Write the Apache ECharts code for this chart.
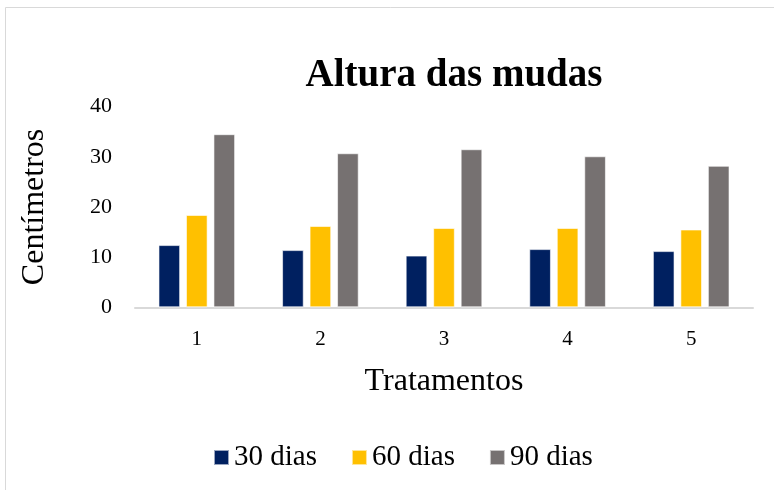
<!DOCTYPE html>
<html>
<head>
<meta charset="utf-8">
<script src="https://cdn.jsdelivr.net/npm/echarts@6/dist/echarts.min.js"></script>
<style>
  html, body { margin: 0; padding: 0; background: #fff; }
  #chart { width: 774px; height: 490px; }
</style>
</head>
<body>
<div id="chart"></div>
<script>
var categories = ['1', '2', '3', '4', '5'];
var dias30 = [12.4, 11.4, 10.3, 11.6, 11.2];
var dias60 = [18.4, 16.2, 15.8, 15.8, 15.5];
var dias90 = [34.5, 30.7, 31.5, 30.1, 28.2];
var yTicks = [0, 10, 20, 30, 40];

var font = '"Liberation Serif", "DejaVu Serif", serif';

var chart = echarts.init(document.getElementById('chart'));

function barSeries(name, data, color) {
  return {
    name: name,
    type: 'bar',
    data: data,
    barGap: '27%',
    barCategoryGap: '38%',
    itemStyle: { color: color, borderColor: 'rgba(255,255,255,0.6)', borderWidth: 1 },
  };
}

chart.setOption({
  animation: false,
  textStyle: { fontFamily: font, color: '#000' },
  title: {
    text: 'Altura das mudas',
    left: 449,
    top: 51,
    textAlign: 'center',
    textStyle: { fontFamily: font, fontSize: 39, fontWeight: 'bold', color: '#000' },
  },
  graphic: [{
    type: 'rect',
    shape: { x: 5.5, y: 7.5, width: 800, height: 500 },
    style: { fill: 'none', stroke: '#d9d9d9', lineWidth: 1 },
    silent: true,
  }],
  grid: { left: 135, right: 21, top: 106.6, bottom: 182.7, containLabel: false },
  legend: {
    left: 208,
    top: 438,
    itemWidth: 15,
    itemHeight: 15,
    itemGap: 34,
    icon: 'rect',
    textStyle: { fontFamily: font, fontSize: 29, color: '#000', padding: [0, 0, 0, 0] },
    data: ['30 dias', '60 dias', '90 dias'],
  },
  xAxis: {
    type: 'category',
    data: categories,
    name: 'Tratamentos',
    nameLocation: 'middle',
    nameGap: 58,
    nameTextStyle: { fontFamily: font, fontSize: 32, color: '#000' },
    axisLine: { lineStyle: { color: '#d9d9d9', width: 2 } },
    axisTick: { show: false },
    axisLabel: { fontFamily: font, fontSize: 21, color: '#000', margin: 22 },
  },
  yAxis: {
    type: 'value',
    min: yTicks[0],
    max: yTicks[yTicks.length - 1],
    interval: 10,
    name: 'Centímetros',
    nameLocation: 'middle',
    nameGap: 84,
    nameTextStyle: { fontFamily: font, fontSize: 32, color: '#000' },
    axisLine: { show: false },
    axisTick: { show: false },
    splitLine: { show: false },
    axisLabel: { fontFamily: font, fontSize: 22, color: '#000', margin: 23 },
  },
  series: [
    barSeries('30 dias', dias30, '#002060'),
    barSeries('60 dias', dias60, '#FFC000'),
    barSeries('90 dias', dias90, '#767171'),
  ],
});
</script>
</body>
</html>
